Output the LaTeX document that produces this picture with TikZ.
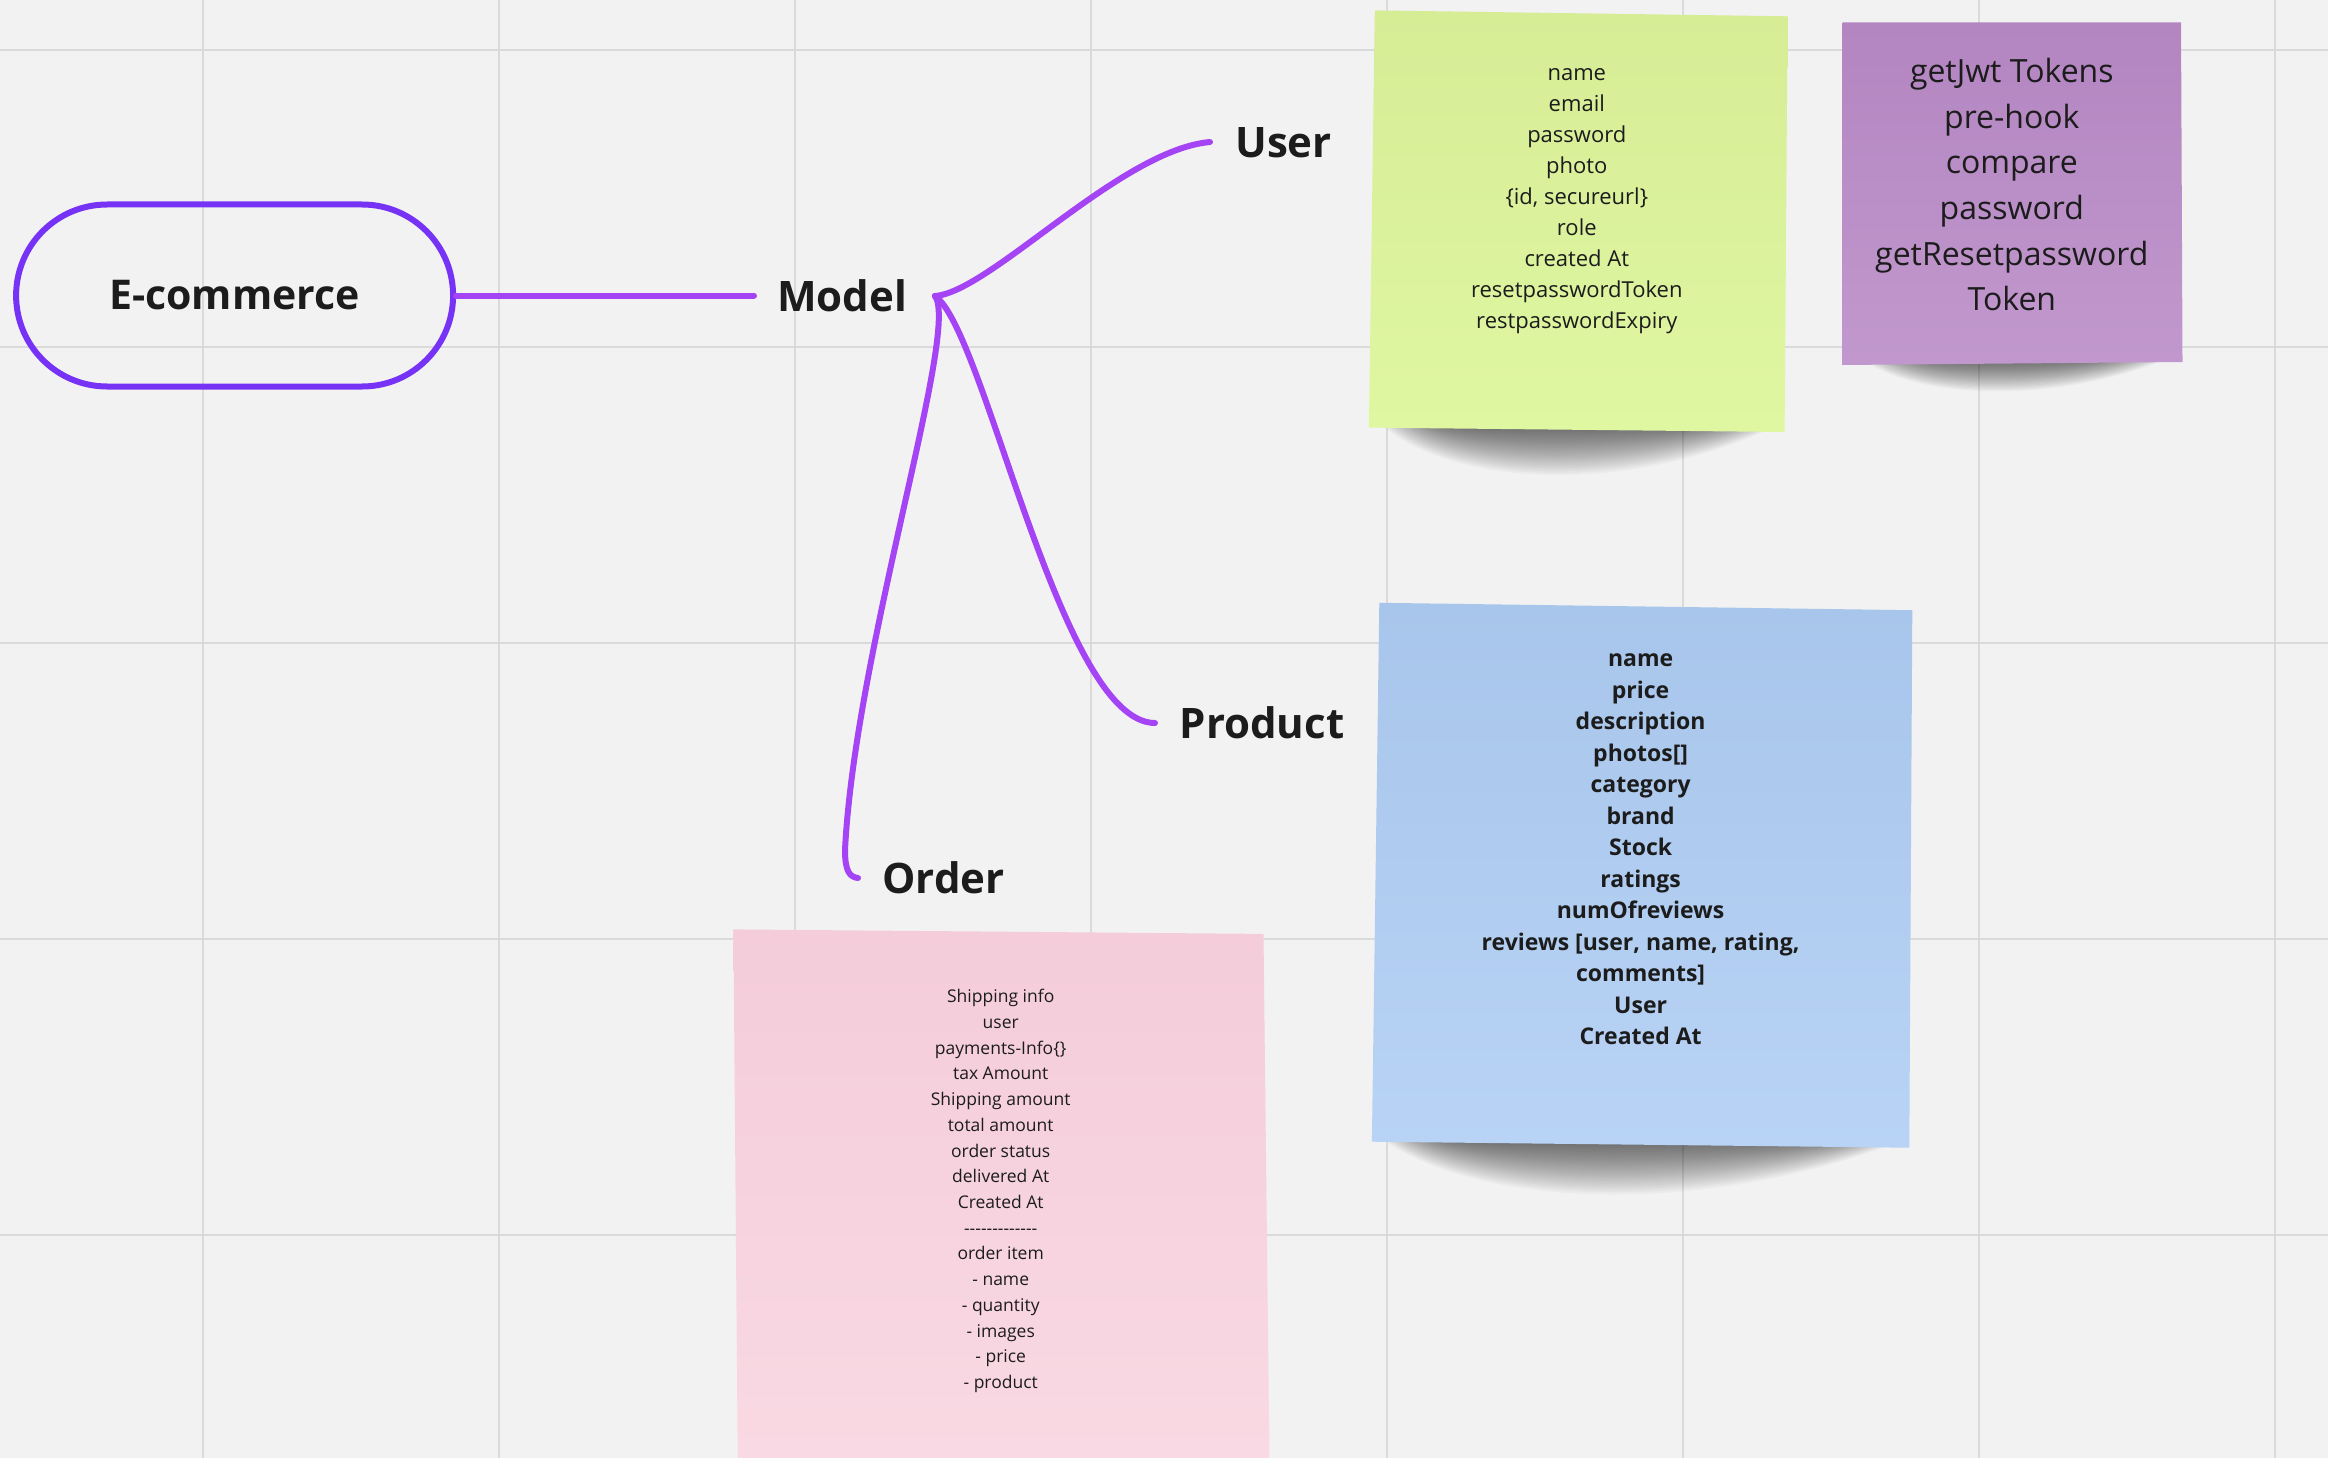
\documentclass[tikz,border=0pt]{standalone}
\usepackage{fontspec}
\setmainfont{Open Sans}
\definecolor{bg}{HTML}{F2F2F2}
\definecolor{gridc}{HTML}{DADADA}
\definecolor{pillc}{HTML}{7733F5}
\definecolor{connc}{HTML}{A544F5}
\definecolor{ink}{HTML}{1C1C1C}
\definecolor{greenT}{HTML}{D6EC95}
\definecolor{greenB}{HTML}{E0F7A2}
\definecolor{purpT}{HTML}{B385C1}
\definecolor{purpB}{HTML}{C198CD}
\definecolor{blueT}{HTML}{A8C5EB}
\definecolor{blueB}{HTML}{B8D3F5}
\definecolor{pinkT}{HTML}{F4CCDA}
\definecolor{pinkB}{HTML}{F9D9E3}
\newcommand\noteshadow[4]{%
  \foreach \i in {0,...,23}{%
    \fill[black,opacity=0.026] ({#1+\i*2.5},{#3-6}) .. controls ({#1+0.2*(#2-#1)},{#3+#4*(1-\i/24)}) and ({#1+0.65*(#2-#1)},{#3+#4*(1-\i/24)}) .. ({#2-\i*2.5},{#3-6}) -- cycle;
  }}
\newcommand\hy{\mbox{-}}
\begin{document}
\begin{tikzpicture}[x=1pt,y=-1pt,
  conn/.style={line width=6pt, draw=connc, line cap=round},
  lbl/.style={font=\fontsize{42}{50}\selectfont\bfseries, text=ink, inner sep=0pt},
  notetext/.style={align=center, text=ink, inner sep=0pt}]
\useasboundingbox (0,0) rectangle (2328,1458);
\fill[bg] (0,0) rectangle (2328,1458);
% grid
\foreach \x in {203,499,795,1091,1387,1683,1979,2275}
  \draw[gridc, line width=2pt] (\x,0) -- (\x,1458);
\foreach \y in {50.5,346.5,642.5,938.5,1234.5}
  \draw[gridc, line width=2pt] (0,\y) -- (2328,\y);
% shadows
\noteshadow{1380}{1780}{430}{62}
\noteshadow{1858}{2172}{363}{40}
\noteshadow{1382}{1905}{1145}{68}
% sticky notes
\shade[top color=greenT, bottom color=greenB] (1374.8,10.4) -- (1787.6,16.3) -- (1784.6,432) -- (1368.9,427.6) -- cycle;
\shade[top color=purpT, bottom color=purpB] (1842.5,22.3) -- (2181,22.3) -- (2182.5,362) -- (1842.5,365) -- cycle;
\shade[top color=blueT, bottom color=blueB] (1379.3,602.8) -- (1912.3,610.2) -- (1909.3,1147.7) -- (1371.9,1141.7) -- cycle;
\shade[top color=pinkT, bottom color=pinkB] (733.4,929.4) -- (1263.5,933.9) -- (1269.4,1458) -- (737.7,1458) -- cycle;
% note texts
\node[notetext, font=\fontsize{22}{31}\selectfont] (usertxt) at (1576.8,198.5)
  {\strut name\\email\\password\\photo\\\{id, secureurl\}\\role\\created At\\resetpasswordToken\\restpasswordExpiry\strut};
\node[notetext, font=\fontsize{32}{45.6}\selectfont] (methtxt) at (2011.8,187.5)
  {\strut getJwt Tokens\\pre-hook\\compare\\password\\getResetpassword\\Token\strut};
\node[notetext, font=\fontsize{23}{31.5}\selectfont\bfseries] (prodtxt) at (1640.6,849.5)
  {\strut name\\price\\description\\photos[]\\category\\brand\\Stock\\ratings\\numOfreviews\\reviews [user, name, rating,\\comments]\\User\\Created At\strut};
\node[notetext, font=\fontsize{17.5}{25.73}\selectfont] (ordtxt) at (1000.7,1190.5)
  {\strut Shipping info\\user\\payments-Info\{\}\\tax Amount\\Shipping amount\\total amount\\order status\\delivered At\\Created At\\\hy\hy\hy\hy\hy\hy\hy\hy\hy\hy\hy\hy\hy\\order item\\- name\\- quantity\\- images\\- price\\- product\strut};
% main nodes
\node[draw=pillc, line width=6pt, rounded corners=91pt, minimum width=437pt, minimum height=182pt, inner sep=0pt, font=\fontsize{41}{50}\selectfont\bfseries, text=ink] (ecom) at (234.6,295.5) {E-commerce};
\node[lbl] (model) at (842,295.5) {Model};
\node[lbl] (user) at (1283.5,142.5) {User};
\node[lbl] (product) at (1262,723) {Product};
\node[lbl] (order) at (943.5,877.5) {Order};
% connectors
\coordinate (modelL) at (754,295.5);
\coordinate (hub) at (935,296);
\coordinate (uend) at (1210,142);
\coordinate (pend) at (1155,723);
\coordinate (omid) at (845,850);
\coordinate (oend) at (858,878);
\draw[conn] (ecom.east) -- (modelL);
\draw[conn] (hub) .. controls (990,292) and (1120,150) .. (uend);
\draw[conn] (hub) .. controls (985,330) and (1060,723) .. (pend);
\draw[conn] (hub) .. controls (960,330) and (855,650) .. (omid) .. controls (845,872) and (850,877) .. (oend);
\end{tikzpicture}
\end{document}
